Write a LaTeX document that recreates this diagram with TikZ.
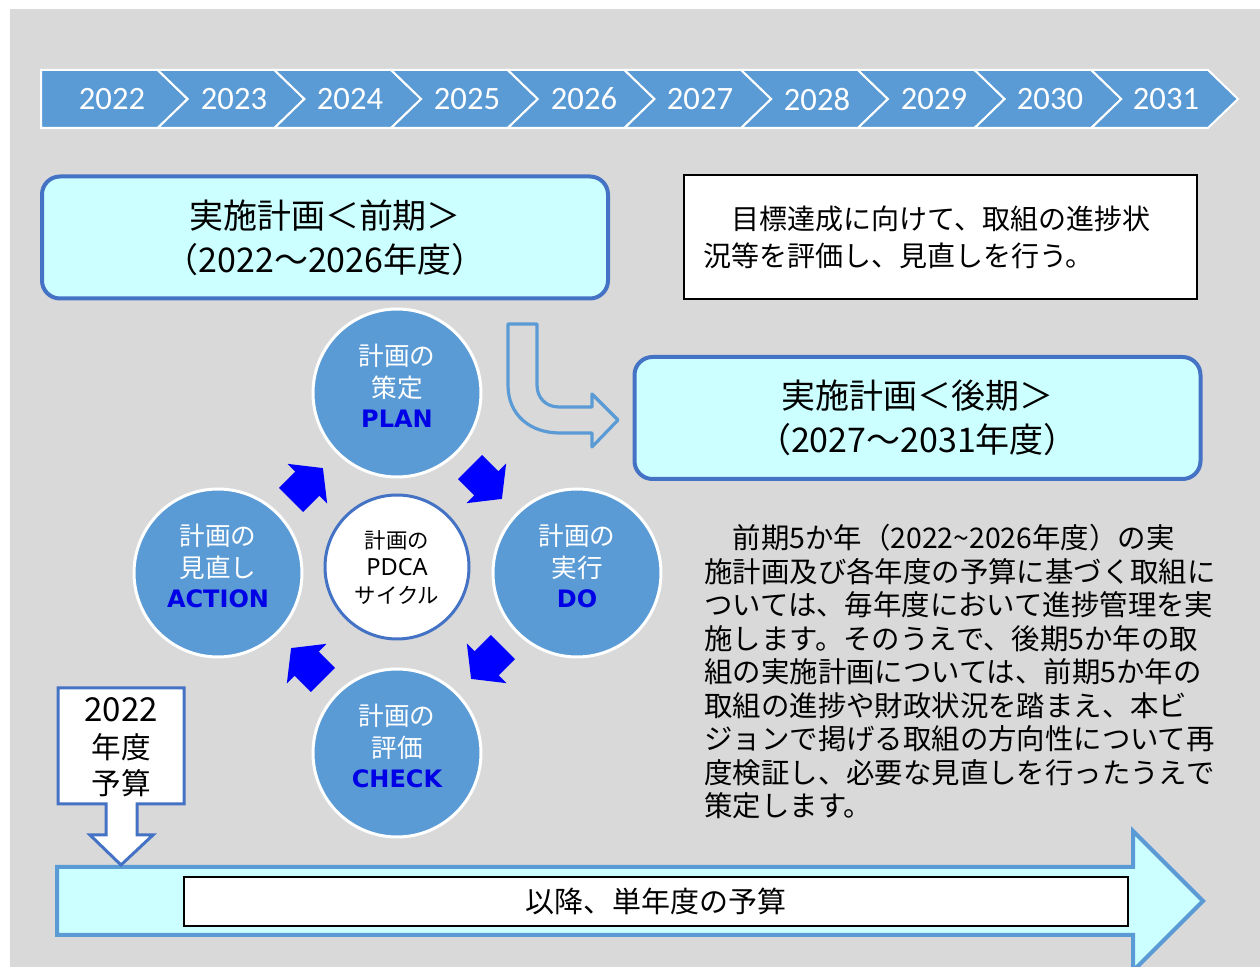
\documentclass[tikz,border=0pt]{standalone}
\usepackage{fontspec}
\setmainfont{Noto Sans CJK JP}
\newfontfamily\calfont{Carlito}
\newfontfamily\dvfont{DejaVu Sans}
\newfontfamily\nsfont{Noto Sans}
\usetikzlibrary{calc}
\definecolor{bggray}{HTML}{D9D9D9}
\definecolor{acc}{HTML}{5B9BD5}
\definecolor{bdr}{HTML}{4472C4}
\definecolor{cyanfill}{HTML}{CCFFFF}
\definecolor{deepblue}{RGB}{0,0,230}
\newcommand\phasetext[3]{%
  \node[ptxt] (#1-l1) at ($(#1)+(0,-37)$) {計画の};
  \node[ptxt] (#1-l2) at ($(#1)+(0,-5)$) {#2};
  \node[pword] (#1-l3) at ($(#1)+(0,26)$) {#3};
}
\newcommand\blockarrow[3]{%
  \fill[cyc, shift={(#1,#2)}, rotate=#3] (-22.5,-17) -- (0.5,-17) -- (0.5,-28) -- (22.5,0) -- (0.5,28) -- (0.5,17) -- (-22.5,17) -- cycle;
}
\begin{document}
\begin{tikzpicture}[x=0.5pt,y=-0.5pt,
  chev/.style={fill=acc, draw=white, line width=1pt, line join=miter},
  yeartxt/.style={text=white, font=\calfont\fontsize{16.3pt}{18pt}\selectfont, inner sep=0},
  planbox/.style={draw=bdr, line width=2pt, fill=cyanfill, rounded corners=9pt, align=center, font=\fontsize{17pt}{22pt}\selectfont},
  notebox/.style={draw=black, line width=1pt, fill=white},
  notetxt/.style={anchor=west, inner sep=0, font=\fontsize{14pt}{16pt}\selectfont},
  phase/.style={circle, fill=acc, draw=white, line width=1.5pt, minimum size=84pt, inner sep=0},
  hub/.style={circle, fill=white, draw=bdr, line width=1.5pt, minimum size=72pt, inner sep=0},
  ptxt/.style={text=white, inner sep=0, font=\fontsize{12.8pt}{15pt}\selectfont},
  pword/.style={text=deepblue, inner sep=0, font=\dvfont\bfseries\fontsize{12pt}{14pt}\selectfont},
  hubtxt/.style={inner sep=0, font=\fontsize{10.7pt}{12pt}\selectfont},
  cyc/.style={fill=blue},
  bentarrow/.style={draw=acc, line width=1.6pt, line join=round},
  budget/.style={draw=bdr, line width=1.5pt, fill=white, line join=miter},
  budtxt/.style={inner sep=0, font=\fontsize{14.8pt}{18pt}\selectfont},
  longarrow/.style={draw=acc, line width=2pt, fill=cyanfill, line join=miter},
  yearbox/.style={draw=black, line width=1pt, fill=white, font=\fontsize{14.5pt}{17pt}\selectfont},
  para/.style={anchor=west, inner sep=0, font=\fontsize{14.2pt}{17pt}\selectfont},
]
\useasboundingbox (0,0) rectangle (1260,967);
\fill[white] (0,0) rectangle (1260,967);
\fill[bggray] (10,9) rectangle (1260,967);

% timeline
\foreach \i in {0,...,9}{
  \pgfmathsetmacro\xa{41+116.7*\i}
  \pgfmathsetmacro\xb{\xa+116.7}
  \pgfmathsetmacro\xc{\xa+146.7}
  \pgfmathsetmacro\xd{\xa+30}
  \ifnum\i=0
    \path[chev] (\xa,70) -- (\xb,70) -- (\xc,99) -- (\xb,128) -- (\xa,128) -- cycle;
  \else
    \path[chev] (\xa,70) -- (\xb,70) -- (\xc,99) -- (\xb,128) -- (\xa,128) -- (\xd,99) -- cycle;
  \fi
}
\foreach \yr/\xt in {2022/112,2023/234,2024/350,2025/467,2026/584,2027/700,2028/817,2029/934,2030/1050,2031/1166}
  \node[yeartxt] (y\yr) at (\xt,99) {\yr};

% plan boxes
\node[planbox, minimum width=283pt, minimum height=61pt] (early) at (325,237.5) {実施計画＜前期＞\\（2022～2026年度）};
\node[planbox, minimum width=283pt, minimum height=61pt] (late) at (917.5,418) {実施計画＜後期＞\\（2027～2031年度）};

% note box
\node[notebox, minimum width=256.5pt, minimum height=62pt] (note) at (940.5,237) {};
\node[notetxt] (note1) at (703,219) {　目標達成に向けて、取組の進捗状};
\node[notetxt] (note2) at (703,256) {況等を評価し、見直しを行う。};

% bent arrow
\draw[bentarrow] (508,324) -- (537,324) -- (537,385) .. controls (537,398) and (546,407) .. (559,407) -- (592,407) -- (592,394) -- (618,420) -- (592,447) -- (592,433) -- (560,433) .. controls (530,433) and (508,415) .. (508,385) -- cycle;

% PDCA circles
\node[phase] (plan) at (397,393) {};
\node[phase] (do) at (577,573) {};
\node[phase] (check) at (397,753) {};
\node[phase] (action) at (218,573) {};
\node[hub] (hub) at (397,567) {};
\phasetext{plan}{策定}{PLAN}
\phasetext{do}{実行}{DO}
\phasetext{check}{評価}{CHECK}
\phasetext{action}{見直し}{ACTION}
\node[hubtxt] (hub1) at ($(hub)+(0,-27)$) {計画の};
\node[hubtxt, font=\nsfont\fontsize{11.8pt}{12pt}\selectfont] (hub2) at ($(hub)+(0,0)$) {PDCA};
\node[hubtxt] (hub3) at ($(hub)+(0,28)$) {サイクル};

% cycle arrows
\blockarrow{486}{483}{-45}
\blockarrow{487}{663}{-135}
\blockarrow{307}{664}{135}
\blockarrow{307}{484}{45}

% long bottom arrow
\draw[longarrow] (57,867) -- (1133,867) -- (1133,831) -- (1203,901) -- (1133,971) -- (1133,935) -- (57,935) -- cycle;
\node[yearbox, minimum width=472pt, minimum height=24.5pt] (single) at (656,901.5) {以降、単年度の予算};

% budget callout
\draw[budget] (58,688) -- (184,688) -- (184,804) -- (137,804) -- (137,835) -- (153,835) -- (121,865) -- (90,835) -- (106,835) -- (106,804) -- (58,804) -- cycle;
\node[budtxt, font=\fontsize{16.5pt}{18pt}\selectfont] (bud1) at (121,710) {2022};
\node[budtxt] (bud2) at (121,747) {年度};
\node[budtxt] (bud3) at (121,783) {予算};

% paragraph
\foreach \t [count=\i] in {
  {　前期5か年（2022\textasciitilde2026年度）の実},
  {施計画及び各年度の予算に基づく取組に},
  {ついては、毎年度において進捗管理を実},
  {施します。そのうえで、後期5か年の取},
  {組の実施計画については、前期5か年の},
  {取組の進捗や財政状況を踏まえ、本ビ},
  {ジョンで掲げる取組の方向性について再},
  {度検証し、必要な見直しを行ったうえで},
  {策定します。}}
  \node[para] (par\i) at (704,{538+33.5*(\i-1)}) {\t};
\end{tikzpicture}
\end{document}
